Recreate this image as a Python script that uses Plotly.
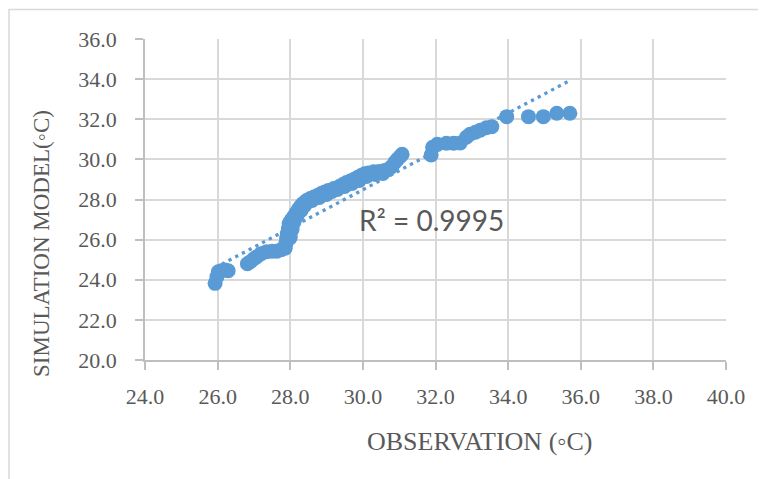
import plotly.graph_objects as go

# Observation vs simulation (°C)
observation = [25.93, 25.98, 26.02, 26.10, 26.20, 26.29,
               26.82, 26.90, 27.00, 27.08, 27.20, 27.35, 27.50, 27.63, 27.75, 27.86,
               27.88, 27.90, 27.92, 27.95, 27.97, 28.02, 28.08, 28.15, 28.22, 28.28,
               28.35, 28.45, 28.55, 28.65, 28.75, 28.85, 28.95, 29.05, 29.20, 29.35,
               29.45, 29.55, 29.65, 29.75, 29.85, 29.95, 30.05, 30.15, 30.30, 30.45,
               30.60, 30.70, 30.80, 30.88, 30.95, 31.02, 31.08,
               28.00, 28.05, 28.10, 28.18, 28.30, 28.40, 28.60, 28.80, 29.00, 29.15,
               29.30, 29.50, 29.70, 29.90, 30.10, 30.35, 30.55,
               31.88, 31.92, 32.05, 32.30, 32.50, 32.68, 32.85, 32.95, 33.10, 33.23,
               33.40, 33.55, 33.96, 34.56, 34.97, 35.34, 35.70]
simulation = [23.82, 24.15, 24.40, 24.45, 24.48, 24.45,
              24.80, 24.90, 25.05, 25.15, 25.30, 25.40, 25.42, 25.42, 25.50, 25.57,
              25.80, 26.05, 26.30, 26.55, 26.80, 26.95, 27.10, 27.30, 27.50, 27.65,
              27.80, 27.95, 28.05, 28.12, 28.20, 28.30, 28.38, 28.45, 28.55, 28.65,
              28.75, 28.85, 28.92, 29.00, 29.10, 29.20, 29.28, 29.32, 29.38, 29.40,
              29.45, 29.50, 29.65, 29.85, 30.00, 30.13, 30.25,
              26.10, 26.50, 26.85, 27.15, 27.45, 27.70, 27.95, 28.10, 28.25, 28.40,
              28.50, 28.65, 28.80, 28.95, 29.15, 29.25, 29.30,
              30.22, 30.60, 30.75, 30.80, 30.80, 30.82, 31.10, 31.25, 31.35, 31.45,
              31.58, 31.63, 32.13, 32.13, 32.13, 32.30, 32.30]

# Linear trendline endpoints as drawn in the reference
trend_x = [25.93, 35.70]
trend_y = [24.60, 33.93]
r2_label = "R² = 0.9995"

x_ticks = [24, 26, 28, 30, 32, 34, 36, 38, 40]
y_ticks = [20, 22, 24, 26, 28, 30, 32, 34, 36]

BLUE = "#5b9bd5"
GRID = "#d9d9d9"
TEXT = "#595959"
SERIF = "Liberation Serif, Times New Roman, serif"

OFF = 8  # page body margin in the browser
W, H = 766, 479
ML, MT = 145 - OFF, 39 - OFF
PW, PH = 581, 321
MR = W - ML - PW
MB = H - MT - PH


def px(xs):
    """screen x pixel -> paper x"""
    return (xs - OFF - ML) / PW


def py(ys):
    """screen y pixel -> paper y"""
    return (MT + PH - (ys - OFF)) / PH


fig = go.Figure()
fig.add_trace(go.Scatter(
    x=observation, y=simulation, mode="markers",
    marker=dict(size=15, color=BLUE, line=dict(width=0)),
    showlegend=False, hoverinfo="x+y"))
fig.add_trace(go.Scatter(
    x=trend_x, y=trend_y, mode="lines",
    line=dict(color=BLUE, width=3.3, dash="3.3px,4.3px"),
    showlegend=False, hoverinfo="skip"))

axis_common = dict(
    showgrid=True, gridcolor=GRID, gridwidth=1.6,
    showline=True, linecolor="#bfbfbf", linewidth=1.6,
    ticks="outside", ticklen=8, tickcolor="#bfbfbf", tickwidth=1.6,
    tickfont=dict(family=SERIF, size=22, color=TEXT),
    zeroline=False, tickformat=".1f",
)
fig.update_xaxes(range=[24, 40], tickvals=x_ticks, ticklabelstandoff=8, **axis_common)
fig.update_yaxes(range=[20, 36], tickvals=y_ticks, ticklabelstandoff=14, **axis_common)

fig.update_layout(
    width=W, height=H,
    margin=dict(l=ML, r=MR, t=MT, b=MB, pad=0),
    paper_bgcolor="white", plot_bgcolor="white",
    shapes=[dict(type="rect", xref="paper", yref="paper",
                 x0=px(9), x1=px(790), y0=py(500), y1=py(9.5),
                 line=dict(color=GRID, width=1.5), layer="below")],
    annotations=[
        dict(text=r2_label, xref="paper", yref="paper", x=px(431), y=py(220),
             showarrow=False, font=dict(family="Lato, Open Sans, sans-serif", size=28, color=TEXT),
             xanchor="center", yanchor="middle"),
        dict(text="OBSERVATION (◦C)", xref="paper", yref="paper", x=px(480), y=py(441),
             showarrow=False, font=dict(family=SERIF, size=26, color=TEXT),
             xanchor="center", yanchor="middle"),
        dict(text="SIMULATION MODEL(◦C)", xref="paper", yref="paper", x=px(41), y=py(244),
             showarrow=False, textangle=-90, font=dict(family=SERIF, size=23, color=TEXT),
             xanchor="center", yanchor="middle"),
    ],
)

fig.write_html("out.html")
